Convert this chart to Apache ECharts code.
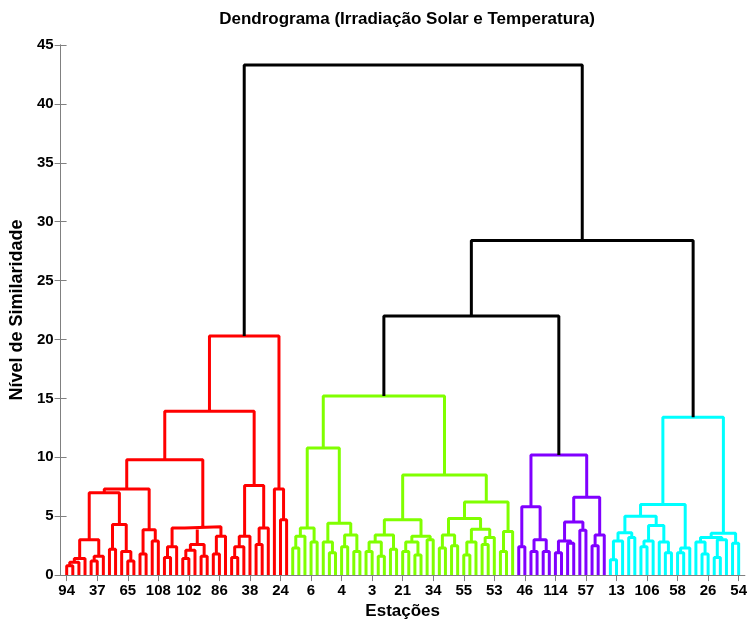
<!DOCTYPE html>
<html>
<head>
<meta charset="utf-8">
<script src="https://cdn.jsdelivr.net/npm/echarts@6/dist/echarts.min.js"></script>
<style>
  html, body { margin: 0; padding: 0; background: #fff; }
  #chart { width: 750px; height: 625px; }
</style>
</head>
<body>
<div id="chart"></div>
<script>
// each internal node: [altura, esquerda, direita]; 0 = folha (estação)
const redTree = [20.3,
  [13.9,
    [9.8,
      [7.3,
        [7.0,
          [3.0, [1.4, [1.1, [0.8, 0, 0], 0], 0], [1.6, [1.2, 0, 0], 0]],
          [4.3, [2.2, 0, 0], [2.0, 0, [1.2, 0, 0]]]],
        [3.85, [1.8, 0, 0], [2.9, 0, 0]]],
      [4.1,
        [4.0, [2.4, [1.5, 0, 0], 0], [2.6, [2.1, [1.4, 0, 0], 0], [1.6, 0, 0]]],
        [3.3, [1.8, 0, 0], 0]]],
    [7.6, [3.3, [2.4, [1.5, 0, 0], 0], 0], [4.0, [2.6, 0, 0], 0]]],
  [7.3, 0, [4.7, 0, 0]]];

const greenTree = [15.2,
  [10.8,
    [4.0, [3.3, [2.3, 0, 0], 0], [2.8, 0, 0]],
    [4.4, [2.8, 0, [1.9, 0, 0]], [3.4, [2.4, 0, 0], [2.0, 0, 0]]]],
  [8.5,
    [4.7,
      [3.4, [2.8, [2.0, 0, 0], [1.6, 0, 0]], [2.2, 0, 0]],
      [3.3, [2.8, [2.0, 0, 0], [1.7, 0, 0]], [3.0, 0, 0]]],
    [6.2,
      [4.8, [3.4, [2.3, 0, 0], [2.5, 0, 0]], [3.9, [2.8, [1.7, 0, 0], 0], [3.2, [2.6, 0, 0], 0]]],
      [3.7, [2.0, 0, 0], 0]]]];

const purpleTree = [10.2,
  [5.8, [2.4, 0, 0], [3.0, [2.0, 0, 0], [2.0, 0, 0]]],
  [6.6,
    [4.5, [2.9, [1.9, 0, 0], [2.7, 0, 0]], [3.8, 0, 0]],
    [3.4, [2.5, 0, 0], 0]]];

const cyanTree = [13.4,
  [6.0,
    [5.0,
      [3.6, [2.9, [1.3, 0, 0], 0], [3.2, 0, 0]],
      [4.2, [2.9, [2.4, 0, 0], 0], [2.8, 0, [1.9, 0, 0]]]],
    [2.3, [1.9, 0, 0], 0]],
  [3.55,
    [3.2, [2.8, 0, [1.8, 0, 0]], [3.0, [1.5, 0, 0], 0]],
    [2.7, 0, 0]]];

const topHeights = [43.3, 28.4, 22.0];
const colorThreshold = 21;
const clusterColors = ['#ff0000', '#80ff00', '#8000ff', '#00ffff'];
const tickLabels = ['94', '37', '65', '108', '102', '86', '38', '24', '6', '4', '3', '21',
  '34', '55', '53', '46', '114', '57', '13', '106', '58', '26', '54'];
const labelStep = 5;

const fullTree = [topHeights[0], redTree,
  [topHeights[1], [topHeights[2], greenTree, purpleTree], cyanTree]];

let nLeaves = 0;
let nCluster = 0;
const segs = {};
function walk(node, color) {
  if (node === 0) {
    nLeaves++;
    return { x: nLeaves, h: 0 };
  }
  const h = node[0];
  let c = color;
  if (h >= colorThreshold) c = '#000000';
  else if (color == null || color === '#000000') c = clusterColors[nCluster++];
  const a = walk(node[1], c);
  const b = walk(node[2], c);
  (segs[c] = segs[c] || []).push([a.x, a.h], [a.x, h], [b.x, h], [b.x, b.h], ['-', '-']);
  return { x: (a.x + b.x) / 2, h: h };
}
walk(fullTree, null);

const tickPos = tickLabels.map((t, i) => 1 + i * labelStep);
const labelOf = {};
tickPos.forEach((p, i) => { labelOf[p] = tickLabels[i]; });

const axisGray = '#808080';
const font = 'Liberation Sans, Arial, sans-serif';

const series = [...clusterColors, '#000000'].filter(c => segs[c]).map(c => ({
  type: 'line',
  data: segs[c],
  symbol: 'none',
  connectNulls: false,
  lineStyle: { color: c, width: 3 },
  z: c === '#000000' ? 3 : 2
}));

const chart = echarts.init(document.getElementById('chart'));
chart.setOption({
  animation: false,
  backgroundColor: '#fff',
  title: {
    text: 'Dendrograma (Irradiação Solar e Temperatura)',
    left: 402, top: 6, textAlign: 'center',
    textStyle: { fontFamily: font, fontSize: 17, fontWeight: 'bold', color: '#000' }
  },
  grid: { left: 60, right: 5, top: 45, bottom: 45 },
  xAxis: [{
    type: 'value', min: 0, max: nLeaves + 1, position: 'bottom',
    name: 'Estações', nameLocation: 'middle', nameGap: 25,
    nameTextStyle: { fontFamily: font, fontSize: 17, fontWeight: 'bold', color: '#000' },
    axisLine: { show: true, lineStyle: { color: axisGray, width: 1 } },
    axisTick: { show: true, inside: true, length: 6, customValues: tickPos, lineStyle: { color: axisGray } },
    axisLabel: {
      customValues: tickPos, margin: 8, formatter: v => labelOf[v] || '',
      fontFamily: font, fontSize: 15, fontWeight: 'bold', color: '#000'
    },
    splitLine: { show: false }
  }, {
    type: 'value', min: 0, max: nLeaves + 1, position: 'top',
    axisLine: { show: true, lineStyle: { color: axisGray, width: 1 } },
    axisTick: { show: true, inside: true, length: 6, customValues: tickPos, lineStyle: { color: axisGray } },
    axisLabel: { show: false },
    splitLine: { show: false }
  }],
  yAxis: [{
    type: 'value', min: 0, max: 45, interval: 5, position: 'left',
    name: 'Nível de Similaridade', nameLocation: 'middle', nameGap: 25,
    nameTextStyle: { fontFamily: font, fontSize: 18, fontWeight: 'bold', color: '#000' },
    axisLine: { show: true, lineStyle: { color: axisGray, width: 1 } },
    axisTick: { show: true, inside: true, length: 6, lineStyle: { color: axisGray } },
    axisLabel: { margin: 7, fontFamily: font, fontSize: 15, fontWeight: 'bold', color: '#000' },
    splitLine: { show: false }
  }, {
    type: 'value', min: 0, max: 45, interval: 5, position: 'right',
    axisLine: { show: true, lineStyle: { color: axisGray, width: 1 } },
    axisTick: { show: true, inside: true, length: 6, lineStyle: { color: axisGray } },
    axisLabel: { show: false },
    splitLine: { show: false }
  }],
  series: series
});
</script>
</body>
</html>
